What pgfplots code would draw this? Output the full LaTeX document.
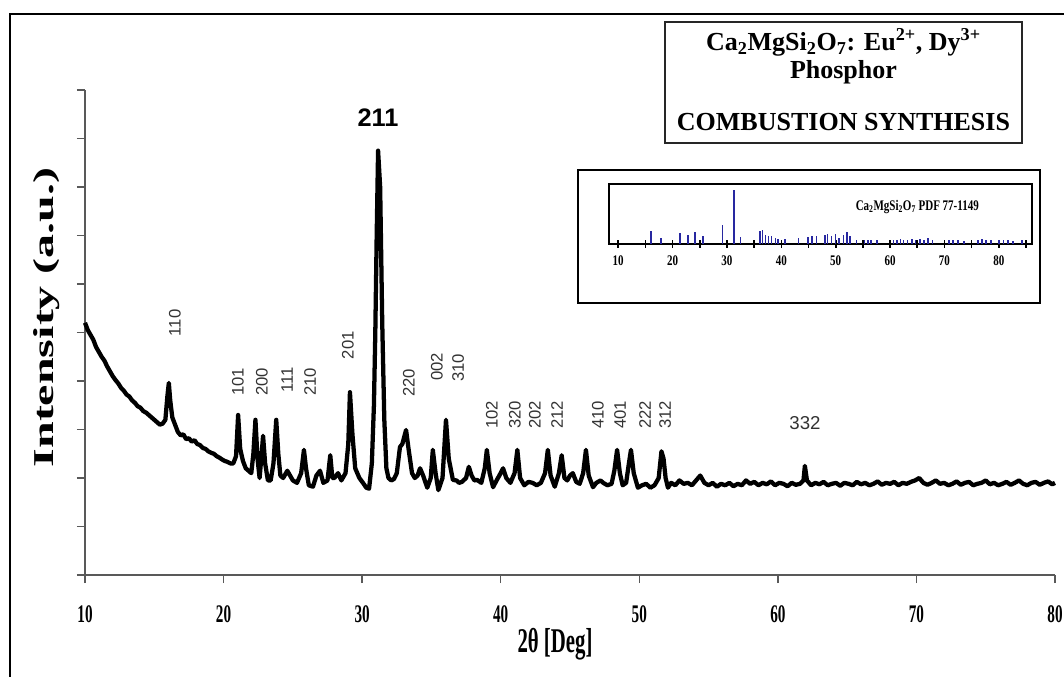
\documentclass[border=0pt]{standalone}
\usepackage{pgfplots}
\pgfplotsset{compat=1.18}
\usepackage{fontspec}
\setmainfont{Liberation Serif}
\newfontfamily\sansf{Liberation Sans}
\usepackage{graphicx}
\newcommand\tl[1]{\scalebox{0.6}[1]{#1}}
\newcommand\il[1]{\scalebox{0.75}[1]{#1}}
\definecolor{stick}{RGB}{40,40,160}
\begin{document}
\begin{tikzpicture}[x=1pt,y=1pt]
\path[use as bounding box] (0,0) rectangle (798,507);
\draw[line width=1.5pt] (7.5,-5) -- (7.5,496.5) -- (805,496.5);

\begin{axis}[
  at={(63.75pt,75.75pt)}, anchor=south west,
  scale only axis, width=727.5pt, height=363.75pt,
  xmin=10, xmax=80, ymin=0, ymax=10,
  axis x line=bottom, axis y line=left,
  axis line style={-, line width=1pt, black!65},
  xtick={10,20,...,80},
  xticklabels={\tl{10},\tl{20},\tl{30},\tl{40},\tl{50},\tl{60},\tl{70},\tl{80}},
  ytick={0,1,...,10}, yticklabels={},
  tick align=outside, major tick length=6pt,
  tick style={line width=1pt, black!65},
  xticklabel style={font=\fontsize{19}{19}\selectfont\bfseries, yshift=-13.5pt},
  clip=false,
]
\addplot[black, line width=3.2pt, line join=round] coordinates {
(10.0,5.2)(10.2,5.05)(10.4,4.95)(10.6,4.85)(10.8,4.7)(11.0,4.6)(11.2,4.5)(11.4,4.42)(11.6,4.3)(11.8,4.2)
(12.0,4.1)(12.2,4.02)(12.4,3.95)(12.6,3.86)(12.8,3.8)(13.0,3.72)(13.2,3.68)(13.4,3.6)(13.6,3.55)(13.8,3.48)
(14.0,3.45)(14.2,3.38)(14.4,3.35)(14.6,3.3)(14.8,3.25)(15.0,3.2)(15.2,3.15)(15.4,3.1)(15.6,3.12)(15.8,3.2)
(15.95,3.7)(16.05,3.96)(16.15,3.6)(16.3,3.25)(16.5,3.1)(16.7,2.95)(16.9,2.88)(17.1,2.9)(17.3,2.8)(17.5,2.82)
(17.7,2.75)(17.9,2.78)(18.1,2.7)(18.3,2.68)(18.5,2.62)(18.7,2.6)(18.9,2.55)(19.1,2.52)(19.3,2.5)(19.5,2.45)
(19.7,2.42)(19.9,2.38)(20.1,2.35)(20.3,2.33)(20.5,2.3)(20.7,2.3)(20.9,2.45)(21.05,3.3)(21.2,2.6)(21.4,2.35)
(21.6,2.2)(21.8,2.15)(22.0,2.1)(22.15,2.5)(22.3,3.2)(22.45,2.4)(22.6,2.0)(22.75,2.5)(22.85,2.87)(23.0,2.3)
(23.2,1.95)(23.4,1.95)(23.6,2.3)(23.8,3.2)(23.95,2.5)(24.1,2.05)(24.3,2.0)(24.6,2.15)(24.8,2.05)(25.0,1.95)
(25.3,1.9)(25.6,2.1)(25.8,2.58)(25.95,2.2)(26.15,1.85)(26.45,1.82)(26.7,2.05)(26.96,2.15)(27.2,1.9)(27.5,1.95)
(27.7,2.47)(27.85,2.0)(28.0,2.0)(28.26,2.1)(28.5,1.95)(28.8,2.1)(29.0,2.7)(29.12,3.77)(29.3,2.9)(29.5,2.2)
(29.8,2.0)(30.06,1.9)(30.3,1.8)(30.5,1.78)(30.7,2.3)(30.85,3.5)(30.95,5.0)(31.05,7.0)(31.15,8.75)(31.3,8.0)
(31.45,5.2)(31.6,3.2)(31.75,2.2)(31.9,2.0)(32.1,1.95)(32.3,1.98)(32.5,2.1)(32.73,2.64)(32.9,2.7)(33.17,2.99)
(33.35,2.6)(33.6,2.1)(33.8,2.0)(34.0,2.05)(34.18,2.2)(34.4,2.05)(34.7,1.8)(34.95,2.0)(35.1,2.58)(35.3,2.1)
(35.5,1.75)(35.8,2.0)(36.05,3.2)(36.25,2.4)(36.55,1.96)(36.8,1.95)(37.0,1.9)(37.2,1.92)(37.5,2.0)(37.7,2.23)
(37.9,2.05)(38.1,1.95)(38.3,1.96)(38.6,1.9)(38.85,2.2)(39.0,2.58)(39.2,2.1)(39.45,1.81)(39.7,1.95)(39.9,2.05)
(40.17,2.2)(40.4,2.0)(40.7,1.9)(41.0,2.1)(41.2,2.58)(41.4,2.0)(41.7,1.85)(42.0,1.92)(42.3,1.9)(42.6,1.85)
(42.9,1.9)(43.2,2.1)(43.4,2.58)(43.6,2.05)(43.9,1.82)(44.2,2.1)(44.4,2.47)(44.6,2.0)(44.8,1.95)(45.0,2.05)
(45.2,2.1)(45.45,1.92)(45.7,1.88)(45.95,2.1)(46.15,2.58)(46.35,2.05)(46.66,1.81)(46.9,1.9)(47.2,1.95)(47.4,1.9)
(47.7,1.85)(48.0,1.88)(48.2,2.15)(48.4,2.58)(48.6,2.1)(48.8,1.85)(49.05,1.9)(49.25,2.3)(49.4,2.58)(49.6,2.1)
(49.9,1.8)(50.2,1.85)(50.5,1.88)(50.8,1.8)(51.1,1.85)(51.4,2.0)(51.6,2.55)(51.75,2.4)(51.9,2.0)(52.07,1.8)
(52.3,1.9)(52.6,1.85)(52.9,1.95)(53.2,1.88)(53.5,1.9)(53.8,1.85)(54.1,1.95)(54.4,2.05)(54.7,1.9)(55.0,1.85)
(55.3,1.9)(55.6,1.82)(55.9,1.88)(56.2,1.85)(56.5,1.9)(56.8,1.83)(57.1,1.88)(57.4,1.85)(57.7,1.95)(58.0,1.88)
(58.3,1.92)(58.6,1.85)(58.9,1.9)(59.2,1.87)(59.5,1.93)(59.8,1.85)(60.1,1.9)(60.4,1.88)(60.7,1.83)(61.0,1.9)
(61.3,1.86)(61.6,1.88)(61.85,1.95)(61.95,2.25)(62.1,1.95)(62.4,1.85)(62.7,1.9)(63.0,1.87)(63.3,1.92)(63.6,1.85)
(63.9,1.88)(64.2,1.9)(64.5,1.84)(64.8,1.9)(65.1,1.88)(65.4,1.85)(65.7,1.92)(66.0,1.87)(66.3,1.9)(66.6,1.85)
(66.9,1.88)(67.2,1.93)(67.5,1.86)(67.8,1.9)(68.1,1.88)(68.4,1.92)(68.7,1.85)(69.0,1.9)(69.3,1.88)(69.6,1.92)
(69.9,1.95)(70.2,2.0)(70.5,1.9)(70.8,1.86)(71.1,1.9)(71.4,1.95)(71.7,1.88)(72.0,1.9)(72.3,1.85)(72.6,1.88)
(72.9,1.93)(73.2,1.86)(73.5,1.9)(73.8,1.92)(74.1,1.85)(74.4,1.88)(74.7,1.9)(75.0,1.95)(75.3,1.87)(75.6,1.9)
(75.9,1.85)(76.2,1.88)(76.5,1.92)(76.8,1.86)(77.1,1.9)(77.4,1.95)(77.7,1.88)(78.0,1.85)(78.3,1.9)(78.6,1.92)
(78.9,1.86)(79.2,1.9)(79.5,1.93)(79.8,1.87)(80.0,1.9)
};
\tikzset{hkl/.style={rotate=90, font=\sansf\fontsize{12.5}{12.5}\selectfont, text=black!80, inner sep=0pt}}
\node[hkl] at (axis cs:16.49,5.20) {110};
\node[hkl] at (axis cs:21.04,3.98) {101};
\node[hkl] at (axis cs:22.77,3.98) {200};
\node[hkl] at (axis cs:24.58,4.02) {111};
\node[hkl] at (axis cs:26.24,3.98) {210};
\node[hkl] at (axis cs:28.98,4.74) {201};
\node[hkl] at (axis cs:33.38,3.96) {220};
\node[hkl] at (axis cs:35.40,4.29) {002};
\node[hkl] at (axis cs:36.92,4.27) {310};
\node[hkl] at (axis cs:39.37,3.30) {102};
\node[hkl] at (axis cs:41.03,3.30) {320};
\node[hkl] at (axis cs:42.47,3.30) {202};
\node[hkl] at (axis cs:44.06,3.30) {212};
\node[hkl] at (axis cs:47.02,3.30) {410};
\node[hkl] at (axis cs:48.61,3.30) {401};
\node[hkl] at (axis cs:50.41,3.30) {222};
\node[hkl] at (axis cs:51.86,3.30) {312};
\node[font=\sansf\fontsize{14}{14}\selectfont, text=black!80, inner sep=0pt] at (axis cs:61.96,3.13) {332};
\node[font=\sansf\bfseries\fontsize{19}{19}\selectfont, inner sep=0pt] at (axis cs:31.14,9.44) {211};
\end{axis}

\node[rotate=90, font=\fontsize{36}{36}\selectfont\bfseries, inner sep=0pt] at (34.9,269) {\scalebox{1}[0.6]{Intensity (a.u.)}};
\node[font=\fontsize{26}{26}\selectfont\bfseries, inner sep=0pt] at (416.25,23.5) {\scalebox{0.6}[1]{2θ [Deg]}};

% inset
\draw[line width=2.2pt] (433.5,279.75) rectangle (780,379.5);
\begin{axis}[
  at={(456.75pt,324pt)}, anchor=south west,
  scale only axis, width=317.25pt, height=45pt,
  xmin=8.3, xmax=86.1, ymin=0, ymax=100,
  ytick=\empty, xtick={10,20,...,80}, minor xtick={15,25,...,85},
  xticklabels={\il{10},\il{20},\il{30},\il{40},\il{50},\il{60},\il{70},\il{80}},
  xtick pos=bottom, tick align=center,
  major tick length=6pt, minor tick length=6pt,
  axis line style={line width=1.4pt},
  tick style={line width=1.2pt, black},
  xticklabel style={font=\fontsize{11}{11}\selectfont\bfseries, yshift=-2pt},
  clip=false,
]
\addplot[ycomb, stick, line width=1.1pt, no marks] coordinates {
(16.0,21.7)(17.9,10)(21.4,18.3)(22.8,15)(24.1,20)(25.6,13.3)(29.2,31.7)(31.25,90)(32.5,11.7)
(36.1,21.7)(36.5,23.3)(37.1,15)(37.6,13.3)(38.2,13.3)(38.9,10)(39.4,8.3)(40.7,8.3)(43.2,10)
(44.9,11.7)(45.6,13.3)(46.5,13.3)(48.0,15)(48.5,16.7)(49.2,13.3)(50.0,16.7)(50.6,10)(51.4,15)
(52.1,20)(52.6,13.3)(53.8,6.7)(55.3,6.7)(55.9,6.7)(56.5,6.7)(57.6,6.7)(60.6,6.7)(61.3,6.7)
(61.9,8.3)(62.5,6.7)(63.2,6.7)(64.0,8.3)(64.7,6.7)(65.5,8.3)(66.2,6.7)(67.0,10)(67.8,6.7)
(70.8,6.7)(71.6,6.7)(72.5,6.7)(73.6,5)(76.2,6.7)(76.9,8.3)(77.6,6.7)(78.6,6.7)(80.0,6.7)
(80.9,6.7)(81.7,6.7)(82.6,5)(84.3,6.7)
};
\node[font=\fontsize{11}{11}\selectfont\bfseries, inner sep=0pt] at (axis cs:65,62) {\il{Ca\textsubscript{2}MgSi\textsubscript{2}O\textsubscript{7} PDF 77-1149}};
\end{axis}

% title box
\draw[line width=1.9pt, black!85] (498.75,399.75) rectangle (766.5,490.5);
\node[font=\fontsize{19.5}{19.5}\selectfont\bfseries, inner sep=0pt] at (632.6,475.5) {Ca\textsubscript{2}MgSi\textsubscript{2}O\textsubscript{7}: Eu\textsuperscript{2+}, Dy\textsuperscript{3+}};
\node[font=\fontsize{19.5}{19.5}\selectfont\bfseries, inner sep=0pt] at (632.6,453) {Phosphor};
\node[font=\fontsize{19.5}{19.5}\selectfont\bfseries, inner sep=0pt] at (632.6,415.5) {COMBUSTION SYNTHESIS};
\end{tikzpicture}
\end{document}
